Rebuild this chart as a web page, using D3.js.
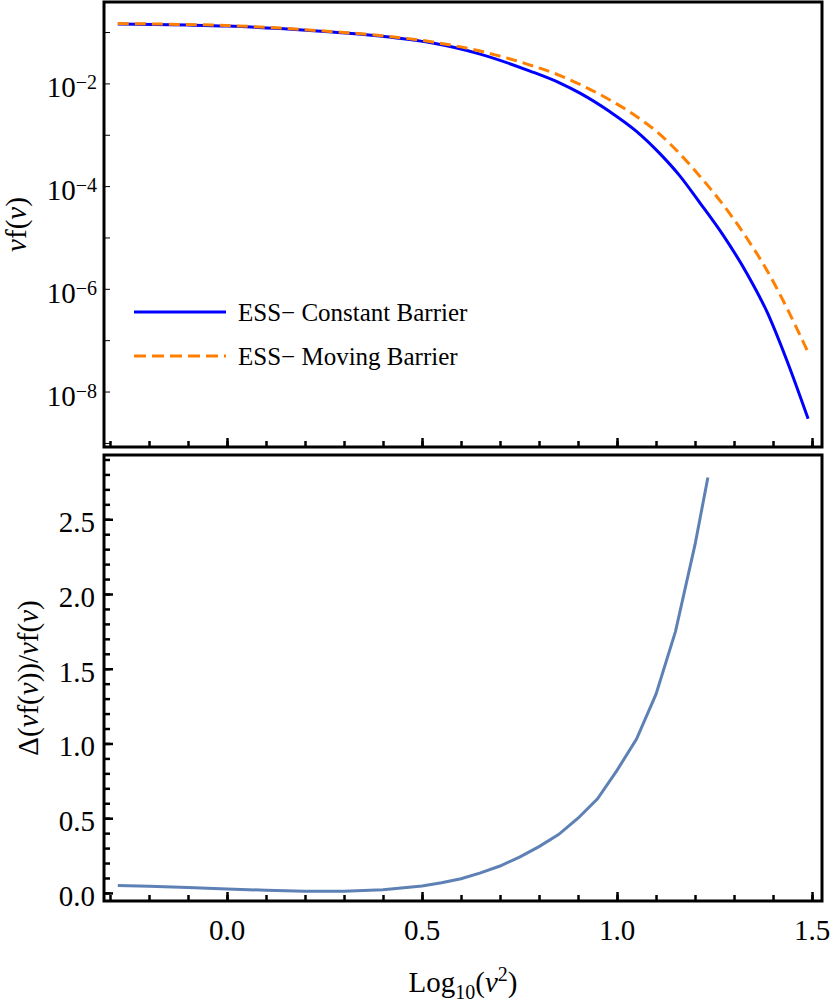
<!DOCTYPE html>
<html>
<head>
<meta charset="utf-8">
<script src="https://d3js.org/d3.v7.min.js"></script>
<style>
  body { margin: 0; background: #fff; }
  svg, text { font-family: "Liberation Serif", "Times New Roman", Tinos, "Nimbus Roman", "DejaVu Serif", "Noto Serif", Times, serif; }
  text { fill: #000; }
  .tl { font-size: 29px; }
  .axis path { display: none; }
  .axis line { stroke: #000; }
</style>
</head>
<body>
<script>
// top panel: x = log10(nu^2), values are log10(nu f(nu))
var logNu2Top = [-0.28, -0.1, 0.0, 0.136, 0.25, 0.392, 0.52, 0.649, 0.777, 0.854, 0.905, 0.982, 1.05, 1.11, 1.16, 1.213, 1.272, 1.333, 1.385, 1.436, 1.49];
var logVfConstant = [-0.844, -0.864, -0.883, -0.932, -0.990, -1.078, -1.205, -1.429, -1.760, -1.994, -2.189, -2.552, -2.934, -3.368, -3.791, -4.330, -4.955, -5.700, -6.455, -7.405, -8.530];
var logVfMoving   = [-0.834, -0.854, -0.873, -0.922, -0.981, -1.068, -1.185, -1.370, -1.643, -1.848, -2.020, -2.324, -2.643, -2.992, -3.363, -3.813, -4.361, -5.016, -5.647, -6.380, -7.240];

// bottom panel: relative difference
var logNu2Bot = [-0.28, -0.2, -0.1, 0.0, 0.1, 0.2, 0.3, 0.4, 0.5, 0.55, 0.6, 0.65, 0.7, 0.75, 0.8, 0.85, 0.9, 0.95, 1.0, 1.05, 1.1, 1.15, 1.2, 1.233];
var relDiff   = [0.05, 0.045, 0.036, 0.027, 0.018, 0.012, 0.012, 0.022, 0.047, 0.068, 0.095, 0.134, 0.18, 0.24, 0.31, 0.39, 0.50, 0.63, 0.82, 1.03, 1.33, 1.75, 2.33, 2.78];

var xMajor = [0, 0.5, 1.0, 1.5];
var xLabels = ["0.0", "0.5", "1.0", "1.5"];
var topDecades = [-1, -2, -3, -4, -5, -6, -7, -8, -9];
var topLabelExps = [-2, -4, -6, -8];
var botMajor = [0, 0.5, 1.0, 1.5, 2.0, 2.5];
var botLabels = ["0.0", "0.5", "1.0", "1.5", "2.0", "2.5"];
var legendNames = ["ESS\u2212 Constant Barrier", "ESS\u2212 Moving Barrier"];

var W = 830, H = 1003;
var left = 104, right = 822;
var top1 = 2, bot1 = 447, top2 = 455, bot2 = 901;
var serif = "'Liberation Serif', 'Times New Roman', Tinos, 'DejaVu Serif', serif";

var svg = d3.select("body").append("svg")
    .attr("width", W).attr("height", H)
    .attr("font-family", serif);

var x = d3.scaleLinear().domain([-0.3154, 1.5256]).range([left, right]);
var yTop = d3.scaleLog().domain([Math.pow(10, -0.415), Math.pow(10, -9.08)]).range([top1, bot1]);
var yBot = d3.scaleLinear().domain([-0.054, 2.93]).range([bot2, top2]);

var xMinor = d3.range(-3, 16).map(function(i) { return i / 10; });

// clip paths
svg.append("clipPath").attr("id", "c1").append("rect")
    .attr("x", left).attr("y", top1).attr("width", right - left).attr("height", bot1 - top1);
svg.append("clipPath").attr("id", "c2").append("rect")
    .attr("x", left).attr("y", top2).attr("width", right - left).attr("height", bot2 - top2);

// ---- top panel ----
var g1 = svg.append("g");

g1.append("g").attr("class", "axis")
    .attr("transform", "translate(0," + bot1 + ")")
    .call(d3.axisBottom(x).tickValues(xMinor).tickSize(-6).tickFormat(""))
    .selectAll("line").attr("stroke-width", 2.5);
g1.append("g").attr("class", "axis")
    .attr("transform", "translate(0," + bot1 + ")")
    .call(d3.axisBottom(x).tickValues(xMajor).tickSize(-9).tickFormat(""))
    .selectAll("line").attr("stroke-width", 2.5);

g1.append("g").attr("class", "axis")
    .attr("transform", "translate(" + left + ",0)")
    .call(d3.axisLeft(yTop).tickValues(topDecades.map(function(e) { return Math.pow(10, e); }))
        .tickSize(-6).tickFormat(""))
    .selectAll("line").attr("stroke", "#666").attr("stroke-width", 1);

topLabelExps.forEach(function(e) {
  var t = g1.append("text").attr("class", "tl")
      .attr("font-family", serif)
      .attr("x", 97).attr("y", yTop(Math.pow(10, e)) + 14)
      .attr("text-anchor", "end");
  t.append("tspan").text("10");
  t.append("tspan").attr("font-size", 20).attr("dy", -8).text("\u2212" + (-e));
});

var lineTop = d3.line()
    .x(function(d) { return x(d[0]); })
    .y(function(d) { return yTop(Math.pow(10, d[1])); })
    .curve(d3.curveMonotoneX);

g1.append("path")
    .datum(d3.zip(logNu2Top, logVfConstant))
    .attr("clip-path", "url(#c1)")
    .attr("fill", "none").attr("stroke", "#0000ff").attr("stroke-width", 3)
    .attr("d", lineTop);

g1.append("path")
    .datum(d3.zip(logNu2Top, logVfMoving))
    .attr("clip-path", "url(#c1)")
    .attr("fill", "none").attr("stroke", "#ff8000").attr("stroke-width", 3)
    .attr("stroke-dasharray", "11,6")
    .attr("d", lineTop);

g1.append("rect")
    .attr("x", left).attr("y", top1).attr("width", right - left).attr("height", bot1 - top1)
    .attr("fill", "none").attr("stroke", "#000").attr("stroke-width", 3);

// legend
var legY = [312, 356];
g1.append("line").attr("x1", 134).attr("x2", 226).attr("y1", legY[0]).attr("y2", legY[0])
    .attr("stroke", "#0000ff").attr("stroke-width", 3);
g1.append("line").attr("x1", 134).attr("x2", 226).attr("y1", legY[1]).attr("y2", legY[1])
    .attr("stroke", "#ff8000").attr("stroke-width", 3).attr("stroke-dasharray", "12,6");
legendNames.forEach(function(n, i) {
  g1.append("text").attr("x", 238).attr("y", legY[i] + 9)
      .attr("font-family", serif)
      .attr("font-size", 25).text(n);
});

// y label top
var yl1 = g1.append("text").attr("class", "tl")
    .attr("font-family", serif)
    .attr("transform", "translate(26," + ((top1 + bot1) / 2) + ") rotate(-90)")
    .attr("text-anchor", "middle");
yl1.append("tspan").attr("font-style", "italic").text("\u03bd");
yl1.append("tspan").text("f(");
yl1.append("tspan").attr("font-style", "italic").text("\u03bd");
yl1.append("tspan").text(")");

// ---- bottom panel ----
var g2 = svg.append("g");

g2.append("g").attr("class", "axis")
    .attr("transform", "translate(0," + bot2 + ")")
    .call(d3.axisBottom(x).tickValues(xMinor).tickSize(-6).tickFormat(""))
    .selectAll("line").attr("stroke-width", 2.5);
g2.append("g").attr("class", "axis")
    .attr("transform", "translate(0," + bot2 + ")")
    .call(d3.axisBottom(x).tickValues(xMajor).tickSize(-9).tickFormat(""))
    .selectAll("line").attr("stroke-width", 2.5);

var yMinor = d3.range(0, 30).map(function(i) { return i / 10; });
g2.append("g").attr("class", "axis")
    .attr("transform", "translate(" + left + ",0)")
    .call(d3.axisLeft(yBot).tickValues(yMinor).tickSize(-6).tickFormat(""))
    .selectAll("line").attr("stroke-width", 2.5);
g2.append("g").attr("class", "axis")
    .attr("transform", "translate(" + left + ",0)")
    .call(d3.axisLeft(yBot).tickValues(botMajor).tickSize(-9).tickFormat(""))
    .selectAll("line").attr("stroke-width", 2.5);

botMajor.forEach(function(v, i) {
  g2.append("text").attr("class", "tl")
      .attr("font-family", serif)
      .attr("x", 95).attr("y", yBot(v) + 13)
      .attr("text-anchor", "end").text(botLabels[i]);
});

xMajor.forEach(function(v, i) {
  g2.append("text").attr("class", "tl")
      .attr("font-family", serif)
      .attr("x", x(v)).attr("y", 940)
      .attr("text-anchor", "middle").text(xLabels[i]);
});

g2.append("path")
    .datum(d3.zip(logNu2Bot, relDiff))
    .attr("clip-path", "url(#c2)")
    .attr("fill", "none").attr("stroke", "#5e81b5").attr("stroke-width", 3)
    .attr("d", d3.line()
        .x(function(d) { return x(d[0]); })
        .y(function(d) { return yBot(d[1]); }));

g2.append("rect")
    .attr("x", left).attr("y", top2).attr("width", right - left).attr("height", bot2 - top2)
    .attr("fill", "none").attr("stroke", "#000").attr("stroke-width", 3);

// y label bottom
var yl2 = g2.append("text").attr("class", "tl")
    .attr("font-family", serif)
    .attr("transform", "translate(38," + ((top2 + bot2) / 2) + ") rotate(-90)")
    .attr("text-anchor", "middle");
yl2.append("tspan").text("\u0394(");
yl2.append("tspan").attr("font-style", "italic").text("\u03bd");
yl2.append("tspan").text("f(");
yl2.append("tspan").attr("font-style", "italic").text("\u03bd");
yl2.append("tspan").text("))/");
yl2.append("tspan").attr("font-style", "italic").text("\u03bd");
yl2.append("tspan").text("f(");
yl2.append("tspan").attr("font-style", "italic").text("\u03bd");
yl2.append("tspan").text(")");

// x label
var xl = svg.append("text").attr("class", "tl")
    .attr("font-family", serif)
    .attr("x", (left + right) / 2).attr("y", 992)
    .attr("text-anchor", "middle");
xl.append("tspan").text("Log");
xl.append("tspan").attr("font-size", 20).attr("dy", 7).text("10");
xl.append("tspan").attr("dy", -7).text("(");
xl.append("tspan").attr("font-style", "italic").text("\u03bd");
xl.append("tspan").attr("font-size", 20).attr("dy", -11).text("2");
xl.append("tspan").attr("dy", 11).text(")");
</script>
</body>
</html>
